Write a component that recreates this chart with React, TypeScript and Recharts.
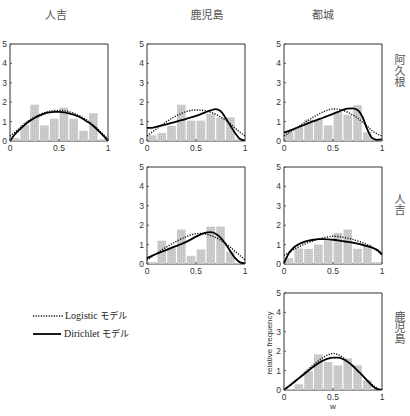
import { ComposedChart, Bar, Line, XAxis, YAxis, ReferenceArea } from "recharts"

// w positions of the curve samples (bars sit on the odd ones: bin centres)
const wGrid = [0, 0.05, 0.1, 0.15, 0.2, 0.25, 0.3, 0.35, 0.4, 0.45, 0.5, 0.55, 0.6, 0.65, 0.7, 0.75, 0.8, 0.85, 0.9, 0.95, 1]
const xTicks = [0, 0.5, 1]
const yTicks = [0, 1, 2, 3, 4, 5]

const colNames = ["人吉", "鹿児島", "都城"]
const rowNames = ["阿久根", "人吉", "鹿児島"]

// 人吉 - 阿久根
const bins1 = [0.15, 0.82, 1.87, 0.8, 1.15, 1.72, 1.15, 0.53, 1.43, 0.09]
const logi1 = [0.25, 0.45, 0.68, 0.9, 1.08, 1.23, 1.36, 1.46, 1.53, 1.57, 1.58, 1.56, 1.51, 1.43, 1.32, 1.18, 1.02, 0.82, 0.6, 0.35, 0.1]
const diri1 = [0, 0.35, 0.6, 0.83, 1.03, 1.19, 1.31, 1.41, 1.47, 1.5, 1.5, 1.48, 1.43, 1.36, 1.26, 1.12, 0.96, 0.77, 0.54, 0.29, 0]

// 鹿児島 - 阿久根
const bins2 = [0.3, 0.42, 0.78, 1.87, 1.05, 1.05, 1.4, 1.2, 1.22, 0.1]
const logi2 = [0.26, 0.45, 0.63, 0.82, 1.0, 1.16, 1.3, 1.42, 1.52, 1.58, 1.6, 1.59, 1.55, 1.48, 1.38, 1.24, 1.08, 0.88, 0.66, 0.45, 0.26]
const diri2 = [0.68, 0.68, 0.74, 0.8, 0.86, 0.93, 1.0, 1.07, 1.14, 1.22, 1.3, 1.39, 1.49, 1.58, 1.64, 1.55, 1.2, 0.8, 0.4, 0.1, 0.02]

// 都城 - 阿久根
const bins3 = [0.45, 0.72, 1.1, 1.1, 0.8, 1.5, 1.35, 1.85, 0.45, 0.05]
const logi3 = [0.26, 0.42, 0.58, 0.75, 0.92, 1.08, 1.23, 1.37, 1.5, 1.6, 1.65, 1.64, 1.58, 1.48, 1.35, 1.18, 0.98, 0.76, 0.52, 0.37, 0.26]
const diri3 = [0.43, 0.52, 0.62, 0.72, 0.82, 0.92, 1.02, 1.11, 1.2, 1.3, 1.4, 1.5, 1.6, 1.67, 1.68, 1.6, 1.25, 0.6, 0.15, 0.06, 0.08]

// 鹿児島 - 人吉
const bins4 = [0.1, 1.2, 0.85, 1.78, 0.42, 0.75, 1.93, 1.93, 0.65, 0.05]
const logi4 = [0.2, 0.38, 0.55, 0.72, 0.88, 1.03, 1.17, 1.3, 1.41, 1.5, 1.56, 1.57, 1.54, 1.47, 1.37, 1.23, 1.06, 0.87, 0.65, 0.43, 0.22]
const diri4 = [0.3, 0.42, 0.53, 0.63, 0.73, 0.83, 0.93, 1.03, 1.14, 1.27, 1.41, 1.53, 1.62, 1.64, 1.56, 1.36, 1.04, 0.66, 0.3, 0.08, 0.03]

// 都城 - 人吉
const bins5 = [0.3, 0.8, 0.78, 1.0, 1.2, 1.6, 1.78, 0.78, 1.0, 0.1]
const logi5 = [0.45, 0.6, 0.75, 0.88, 1.0, 1.11, 1.2, 1.28, 1.35, 1.4, 1.43, 1.42, 1.38, 1.33, 1.27, 1.19, 1.1, 0.99, 0.86, 0.68, 0.45]
const diri5 = [0.05, 0.55, 0.85, 1.02, 1.13, 1.2, 1.25, 1.28, 1.28, 1.27, 1.25, 1.22, 1.18, 1.14, 1.1, 1.05, 0.99, 0.92, 0.84, 0.73, 0.5]

// 都城 - 鹿児島
const bins6 = [0.05, 0.3, 0.97, 1.84, 1.44, 1.27, 1.63, 1.27, 0.5, 0.02]
const logi6 = [0, 0.18, 0.38, 0.6, 0.85, 1.08, 1.3, 1.5, 1.68, 1.82, 1.88, 1.83, 1.68, 1.48, 1.25, 1.0, 0.75, 0.5, 0.28, 0.1, 0.02]
const diri6 = [0, 0.2, 0.4, 0.6, 0.8, 1.0, 1.2, 1.38, 1.52, 1.62, 1.67, 1.67, 1.6, 1.45, 1.25, 1.0, 0.75, 0.48, 0.22, 0.05, 0]

const panels = [
  { col: 0, row: 0, bins: bins1, logistic: logi1, dirichlet: diri1 },
  { col: 1, row: 0, bins: bins2, logistic: logi2, dirichlet: diri2 },
  { col: 2, row: 0, bins: bins3, logistic: logi3, dirichlet: diri3 },
  { col: 1, row: 1, bins: bins4, logistic: logi4, dirichlet: diri4 },
  { col: 2, row: 1, bins: bins5, logistic: logi5, dirichlet: diri5 },
  { col: 2, row: 2, bins: bins6, logistic: logi6, dirichlet: diri6 },
]

// plot-area corners of each column / row
const colLeft = [10, 147, 284]
const rowTop = [44, 167, 293]
const plotW = 98
const plotH = 97
const yAxisW = 14
const marginTop = 4
const binPx = 8.6

const tickStyle = { fontFamily: "Liberation Sans", fontSize: 8.5, fill: "#333" }
const jpFont = "'Noto Sans CJK JP'"

// the bar keeps its centre from the x scale but spans the whole bin
const BinRect = (props) => {
  const { x, y, width, height, fill } = props
  if (!height || height <= 0) return null
  const cx = x + width / 2
  return <rect x={cx - binPx / 2} y={y} width={binPx} height={height} fill={fill} />
}

const Panel = ({ id, col, row, bins, logistic, dirichlet }) => {

  const rows = wGrid.map((w, i) => ({
    w,
    bin: i % 2 === 1 ? bins[(i - 1) / 2] : null,
    logistic: logistic[i],
    dirichlet: dirichlet[i],
  }))

  return (
    <div style={{ position: "absolute", left: colLeft[col] - yAxisW, top: rowTop[row] - marginTop }}>
      <ComposedChart
        width={yAxisW + plotW + 6}
        height={marginTop + plotH + 14}
        data={rows}
        margin={{ top: marginTop, right: 6, bottom: 0, left: 0 }}
      >
        <defs>
          <pattern id={id} width="2" height="2" patternUnits="userSpaceOnUse">
            <rect width="2" height="2" fill="#cdcdcd" />
            <rect width="1" height="1" fill="#bdbdbd" />
          </pattern>
        </defs>
        <XAxis
          dataKey="w"
          type="number"
          domain={[0, 1]}
          ticks={xTicks}
          height={14}
          axisLine={false}
          tickLine={{ stroke: "#555" }}
          tickSize={-2}
          tickMargin={6}
          tick={tickStyle}
          interval={0}
        />
        <YAxis
          type="number"
          domain={[0, 5]}
          ticks={yTicks}
          width={yAxisW}
          axisLine={false}
          tickLine={{ stroke: "#555" }}
          tickSize={-2}
          tickMargin={5}
          tick={tickStyle}
          interval={0}
          allowDataOverflow
        />
        <Bar dataKey="bin" fill={`url(#${id})`} shape={BinRect} isAnimationActive={false} />
        <Line
          type="monotone"
          dataKey="logistic"
          stroke="#111"
          strokeWidth={1.4}
          strokeDasharray="1.2 1.4"
          dot={false}
          isAnimationActive={false}
        />
        <Line
          type="monotone"
          dataKey="dirichlet"
          stroke="#000"
          strokeWidth={1.8}
          dot={false}
          isAnimationActive={false}
        />
        <ReferenceArea x1={0} x2={1} y1={0} y2={5} fill="none" stroke="#333" strokeWidth={1} />
      </ComposedChart>
    </div>
  )
}

const colLabelX = [56, 207, 323]
const rowLabelY = [70, 204, 327]

const App = () => {

  return (
    <div style={{ position: "absolute", left: 0, top: 0, width: 410, height: 416, background: "#fff" }}>

      {panels.map((p, i) => (
        <Panel key={i} id={`hist${i}`} {...p} />
      ))}

      {colNames.map((name, i) => (
        <div
          key={name + i}
          style={{
            position: "absolute", left: colLabelX[i] - 30, top: 6, width: 60, textAlign: "center",
            fontFamily: jpFont, fontSize: 11, color: "#555", lineHeight: "16px",
          }}
        >
          {name}
        </div>
      ))}

      {rowNames.map((name, i) => (
        <div
          key={name + i}
          style={{
            position: "absolute", left: 392, top: rowLabelY[i] - 30, height: 60, width: 16,
            writingMode: "vertical-rl", textAlign: "center",
            fontFamily: jpFont, fontSize: 11, color: "#555", lineHeight: "16px",
          }}
        >
          {name}
        </div>
      ))}

      <div
        style={{
          position: "absolute", left: 270 - 50, top: 343 - 6, width: 100, height: 12, lineHeight: "12px",
          transform: "rotate(-90deg)", textAlign: "center",
          fontFamily: "Liberation Sans", fontSize: 8, color: "#333",
        }}
      >
        relative frequency
      </div>
      <div
        style={{
          position: "absolute", left: 323, top: 401, width: 20, textAlign: "center", lineHeight: "12px",
          fontFamily: "Liberation Sans", fontSize: 8, color: "#333",
        }}
      >
        w
      </div>

      <svg width={70} height={40} style={{ position: "absolute", left: 0, top: 300 }}>
        <line x1={33} x2={63} y1={16} y2={16} stroke="#111" strokeWidth={1.3} strokeDasharray="1.2 1.4" />
        <line x1={33} x2={61} y1={34} y2={34} stroke="#000" strokeWidth={1.8} />
      </svg>
      <div
        style={{
          position: "absolute", left: 65, top: 309, lineHeight: "14px", whiteSpace: "nowrap",
          fontFamily: "'Liberation Serif'", fontSize: 10, color: "#222",
        }}
      >
        Logistic <span style={{ fontFamily: jpFont, fontSize: 9 }}>モデル</span>
      </div>
      <div
        style={{
          position: "absolute", left: 64, top: 327, lineHeight: "14px", whiteSpace: "nowrap",
          fontFamily: "'Liberation Serif'", fontSize: 10, color: "#222",
        }}
      >
        Dirichlet <span style={{ fontFamily: jpFont, fontSize: 9 }}>モデル</span>
      </div>

    </div>
  )

}

export default App
